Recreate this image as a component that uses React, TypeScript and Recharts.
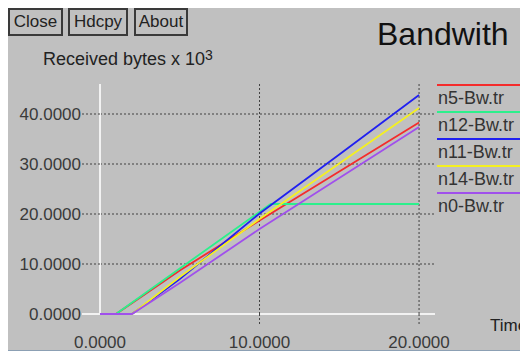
import React from 'react';

import { CartesianGrid, Legend, Line, LineChart, XAxis, YAxis } from 'recharts';

const SERIES_NAMES = ['n5-Bw.tr', 'n12-Bw.tr', 'n11-Bw.tr', 'n14-Bw.tr', 'n0-Bw.tr'];
const SERIES_COLORS = ['#f42c2c', '#2cf08c', '#2020f0', '#f4f020', '#a050ec'];

// time (s) / received bytes x 10^3
const n5Time = [0, 1, 5, 10, 15, 20];
const n5Bytes = [0, 0, 8.7, 18.7, 28.5, 38.3];
const n12Time = [0, 1, 5, 10.7, 15, 20];
const n12Bytes = [0, 0, 9.1, 22, 22, 22];
const n11Time = [0, 2, 5, 10, 15, 20];
const n11Bytes = [0, 0, 7.0, 20.1, 31.9, 43.8];
const n14Time = [0, 2, 5, 10, 15, 20];
const n14Bytes = [0, 0, 7.4, 19.0, 30.1, 41.2];
const n0Time = [0, 2, 5, 10, 15, 20];
const n0Bytes = [0, 0, 6.2, 17.0, 27.2, 37.4];

const X_TICKS = [0, 10, 20];
const Y_TICKS = [0, 10, 20, 30, 40];
const BUTTONS = ['Close', 'Hdcpy', 'About'];

const FONT = "'Liberation Sans', Arial, sans-serif";
const GRID = '#404040';
const AXIS = '#f2f2f2';

const toPoints = (t: number[], v: number[]) => t.map((x, i) => ({ t: x, v: v[i] }));

const seriesData = [
  toPoints(n5Time, n5Bytes),
  toPoints(n12Time, n12Bytes),
  toPoints(n11Time, n11Bytes),
  toPoints(n14Time, n14Bytes),
  toPoints(n0Time, n0Bytes),
];

// grid lines: dotted, except the zero lines which are the white axes
function GridH(props: any) {
  const { x1, x2, y1, y2, y, height } = props;
  const zero = Math.abs(y1 - (y + height)) < 1;
  return (
    <line
      x1={x1}
      x2={x2}
      y1={y1}
      y2={y2}
      stroke={zero ? AXIS : GRID}
      strokeWidth={zero ? 2 : 1}
      strokeDasharray={zero ? undefined : '2 2'}
    />
  );
}

function GridV(props: any) {
  const { x1, x2, y1, y2, x } = props;
  const zero = Math.abs(x1 - x) < 1;
  return (
    <line
      x1={x1}
      x2={x2}
      y1={y1}
      y2={zero ? y2 + 1 : y2}
      stroke={zero ? AXIS : GRID}
      strokeWidth={zero ? 2 : 1}
      strokeDasharray={zero ? undefined : '2 2'}
    />
  );
}

function YTick(props: any) {
  const { x, y, payload } = props;
  const zero = payload.value === 0;
  return (
    <g>
      <line
        x1={x - 18}
        x2={x}
        y1={y}
        y2={y}
        stroke={zero ? AXIS : GRID}
        strokeWidth={zero ? 2 : 1}
        strokeDasharray={zero ? undefined : '2 2'}
      />
      <text x={x - 19} y={y + 6} textAnchor="end" fontSize={17} fontFamily={FONT} fill="#3a3a3a">
        {payload.value.toFixed(4)}
      </text>
    </g>
  );
}

function XTick(props: any) {
  const { x, y, payload } = props;
  return (
    <g>
      {payload.value !== 0 && (
        <line x1={x} x2={x} y1={y} y2={y + 11} stroke={GRID} strokeDasharray="2 2" />
      )}
      <text x={x} y={y + 34} textAnchor="middle" fontSize={17} fontFamily={FONT} fill="#3a3a3a">
        {payload.value.toFixed(4)}
      </text>
    </g>
  );
}

function LegendBox() {
  return (
    <svg width={91} height={140}>
      {SERIES_NAMES.map((name, i) => (
        <g key={name}>
          <line x1={0} x2={91} y1={1 + i * 27} y2={1 + i * 27} stroke={SERIES_COLORS[i]} strokeWidth={2} />
          <text x={1} y={20 + i * 27} fontSize={18} fontFamily={FONT} fill="#333">
            {name}
          </text>
        </g>
      ))}
    </svg>
  );
}

export default function App() {
  return (
    <div
      style={{
        position: 'relative',
        width: 520,
        height: 343,
        boxSizing: 'border-box',
        background: '#c0c0c0',
        borderBottom: '1px solid #8ca0b4',
        fontFamily: FONT,
        overflow: 'hidden',
      }}
    >
      {BUTTONS.map((b, i) => (
        <div
          key={b}
          style={{
            position: 'absolute',
            left: [0, 60, 126][i],
            top: 0,
            width: [55, 60, 54][i],
            height: 28,
            boxSizing: 'border-box',
            border: '2px solid #3a3a3a',
            fontSize: 17,
            lineHeight: '24px',
            textAlign: 'center',
            color: '#222',
          }}
        >
          {b}
        </div>
      ))}
      <div style={{ position: 'absolute', left: 0, top: 0 }}>
        <LineChart
          width={520}
          height={343}
          data={seriesData[0]}
          margin={{ top: 76, right: 93, bottom: 0, left: 0 }}
        >
          <CartesianGrid
            horizontalValues={Y_TICKS}
            verticalValues={X_TICKS}
            horizontal={(p: any) => <GridH key={p.key} {...p} />}
            vertical={(p: any) => <GridV key={p.key} {...p} />}
          />
          <XAxis
            type="number"
            dataKey="t"
            domain={[0, 21]}
            ticks={X_TICKS}
            height={37}
            tickSize={0}
            tickMargin={0}
            tickLine={false}
            tick={<XTick />}
            axisLine={false}
          />
          <YAxis
            type="number"
            domain={[0, 46]}
            ticks={Y_TICKS}
            width={92}
            tickSize={0}
            tickMargin={0}
            tickLine={false}
            tick={<YTick />}
            axisLine={false}
          />
          <Legend
            layout="vertical"
            align="center"
            verticalAlign="middle"
            wrapperStyle={{ position: 'absolute', left: 429, top: 76, width: 91, height: 140 }}
            content={() => <LegendBox />}
          />
          {SERIES_NAMES.map((name, i) => (
            <Line
              key={name}
              data={seriesData[i]}
              dataKey="v"
              name={name}
              type="linear"
              stroke={SERIES_COLORS[i]}
              strokeWidth={1.8}
              dot={false}
              isAnimationActive={false}
            />
          ))}
        </LineChart>
      </div>
      <svg
        width={520}
        height={343}
        style={{ position: 'absolute', left: 0, top: 0, pointerEvents: 'none' }}
      >
        <text x={369} y={37} fontSize={32} fontFamily={FONT} fill="#111">
          Bandwith
        </text>
        <text x={35} y={57} fontSize={18} fontFamily={FONT} fill="#222">
          Received bytes x 10
          <tspan fontSize={14} dy={-5}>
            3
          </tspan>
        </text>
        <text x={482} y={323} fontSize={17} fontFamily={FONT} fill="#222">
          Time
        </text>
      </svg>
    </div>
  );
}
